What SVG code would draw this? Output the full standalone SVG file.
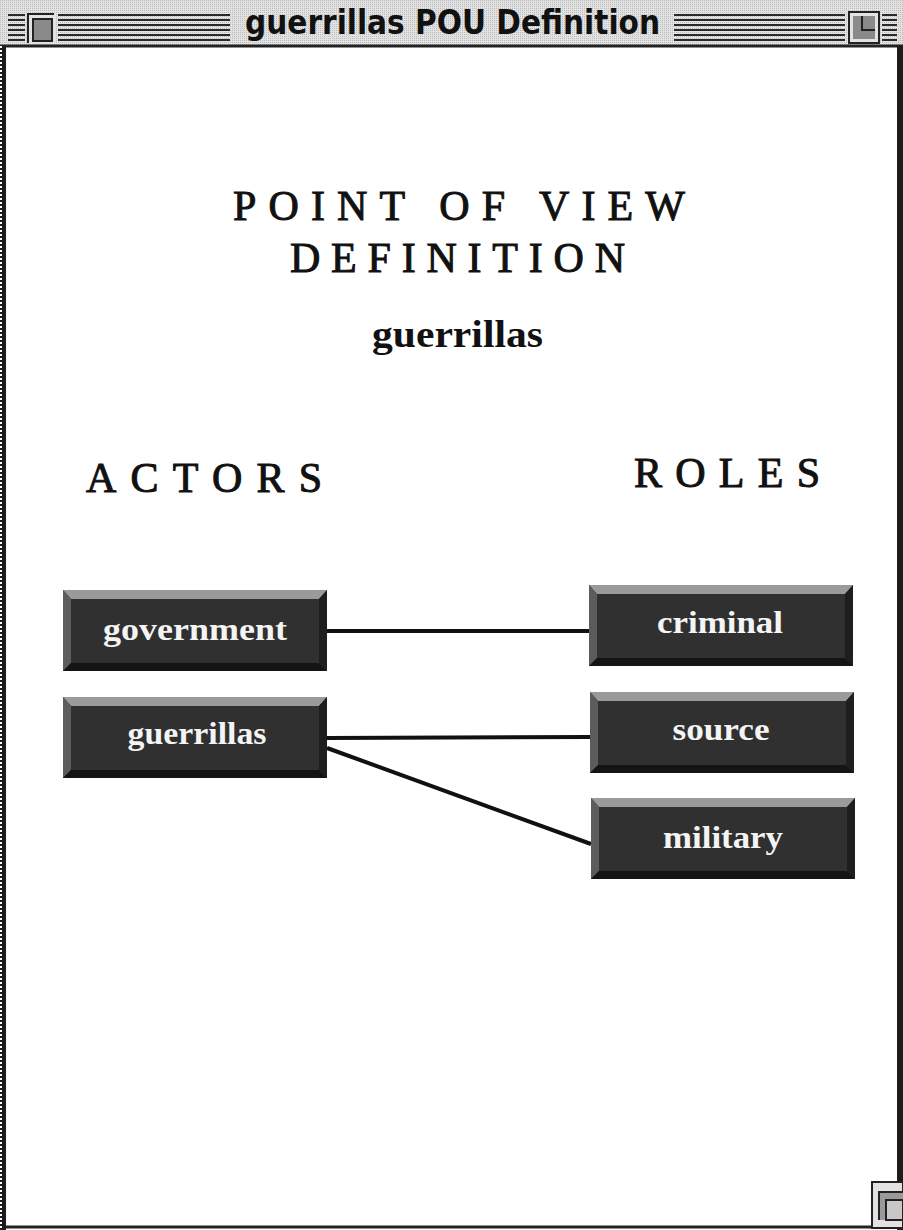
<svg xmlns="http://www.w3.org/2000/svg" width="903" height="1230" viewBox="0 0 903 1230">
  <style>
    .head { font-family: "Liberation Serif", "DejaVu Serif", serif; font-size: 42px; fill: #111; stroke: #111; stroke-width: 1; }
    .sub { font-family: "Liberation Serif", "DejaVu Serif", serif; font-size: 37px; font-weight: bold; fill: #111; }
    .lbl { font-family: "Liberation Serif", "DejaVu Serif", serif; font-size: 31px; font-weight: bold; fill: #f4f4f4; text-anchor: middle; }
    .wintitle { font-family: "DejaVu Sans Condensed", "Liberation Sans Narrow", "Liberation Sans", sans-serif; font-size: 34px; font-weight: bold; fill: #111; }
    .stripe { stroke: #2a2a2a; stroke-width: 2; }
    .link { stroke: #111; stroke-width: 4; fill: none; }
  </style>
  <defs>
    <!-- bevelled dark button, 264 x 81 -->
    <g id="btn">
      <rect x="0" y="0" width="264" height="81" fill="#303030"/>
      <polygon points="0,0 264,0 256,9 8,9" fill="#9a9a9a"/>
      <polygon points="0,0 8,9 8,73 0,81" fill="#5c5c5c"/>
      <polygon points="0,81 8,73 256,73 264,81" fill="#141414"/>
      <polygon points="264,0 264,81 256,73 256,9" fill="#1e1e1e"/>
    </g>
    <pattern id="dither" width="2" height="2" patternUnits="userSpaceOnUse">
      <rect width="2" height="2" fill="#e2e2e2"/>
      <rect width="1" height="1" fill="#bdbdbd"/>
    </pattern>
  </defs>

  <!-- window body -->
  <rect x="0" y="0" width="903" height="1230" fill="#ffffff"/>

  <!-- title bar -->
  <g id="titlebar">
    <rect x="0" y="0" width="903" height="46" fill="url(#dither)"/>
    <line x1="0" y1="46" x2="903" y2="46" stroke="#222" stroke-width="3"/>
    <g class="stripe">
      <line x1="8" y1="15" x2="25" y2="15"/><line x1="8" y1="20" x2="25" y2="20"/>
      <line x1="8" y1="25" x2="25" y2="25"/><line x1="8" y1="30" x2="25" y2="30"/>
      <line x1="8" y1="35" x2="25" y2="35"/><line x1="8" y1="40" x2="25" y2="40"/>
      <line x1="58" y1="15" x2="230" y2="15"/><line x1="58" y1="20" x2="230" y2="20"/>
      <line x1="58" y1="25" x2="230" y2="25"/><line x1="58" y1="30" x2="230" y2="30"/>
      <line x1="58" y1="35" x2="230" y2="35"/><line x1="58" y1="40" x2="230" y2="40"/>
      <line x1="674" y1="15" x2="845" y2="15"/><line x1="674" y1="20" x2="845" y2="20"/>
      <line x1="674" y1="25" x2="845" y2="25"/><line x1="674" y1="30" x2="845" y2="30"/>
      <line x1="674" y1="35" x2="845" y2="35"/><line x1="674" y1="40" x2="845" y2="40"/>
      <line x1="882" y1="15" x2="897" y2="15"/><line x1="882" y1="20" x2="897" y2="20"/>
      <line x1="882" y1="25" x2="897" y2="25"/><line x1="882" y1="30" x2="897" y2="30"/>
      <line x1="882" y1="35" x2="897" y2="35"/><line x1="882" y1="40" x2="897" y2="40"/>
    </g>
    <!-- close box -->
    <rect x="27" y="13" width="28" height="30" fill="#e2e2e2"/>
    <polyline points="28,43 28,14 54,14" fill="none" stroke="#222" stroke-width="2"/>
    <rect x="33" y="19" width="19" height="22" fill="#8a8a8a" stroke="#222" stroke-width="2"/>
    <!-- zoom box -->
    <rect x="849" y="12" width="30" height="31" fill="#e2e2e2" stroke="#222" stroke-width="2"/>
    <rect x="853" y="16" width="22" height="23" fill="#8a8a8a"/>
    <polyline points="862,16 862,30 875,30" fill="none" stroke="#222" stroke-width="2"/>
    <text class="wintitle" x="245" y="34" textLength="415" lengthAdjust="spacingAndGlyphs">guerrillas POU Definition</text>
  </g>

  <!-- window frame -->
  <rect x="0" y="46" width="6" height="1184" fill="#1c1c1c"/>
  <line x1="1" y1="46" x2="1" y2="1230" stroke="#ffffff" stroke-width="2" stroke-dasharray="2,2"/>
  <rect x="897" y="46" width="6" height="1184" fill="#1c1c1c"/>
  <line x1="6" y1="1227" x2="897" y2="1227" stroke="#222" stroke-width="3"/>
  <!-- grow box -->
  <g id="growbox">
    <rect x="872" y="1182" width="31" height="46" fill="#e2e2e2" stroke="#222" stroke-width="2"/>
    <rect x="879" y="1192" width="24" height="28" fill="#9a9a9a"/>
    <polyline points="879,1220 879,1192 903,1192" fill="none" stroke="#222" stroke-width="2"/>
    <rect x="886" y="1200" width="17" height="20" fill="#c8c8c8" stroke="#222" stroke-width="2"/>
  </g>

  <!-- headings -->
  <g id="headings">
    <text class="head" x="233" y="220" textLength="452" lengthAdjust="spacing">POINT OF VIEW</text>
    <text class="head" x="290" y="272" textLength="335" lengthAdjust="spacing">DEFINITION</text>
    <text class="sub" x="372" y="347" textLength="171" lengthAdjust="spacingAndGlyphs">guerrillas</text>
    <text class="head" x="86" y="492" textLength="236" lengthAdjust="spacing">ACTORS</text>
    <text class="head" x="634" y="487" textLength="186" lengthAdjust="spacing">ROLES</text>
  </g>

  <!-- connectors -->
  <g id="connectors">
    <line class="link" x1="327" y1="631" x2="589" y2="631"/>
    <line class="link" x1="327" y1="738" x2="590" y2="737"/>
    <line class="link" x1="327" y1="748" x2="591" y2="844" stroke-width="5"/>
  </g>

  <!-- actor nodes -->
  <g id="node-government">
    <use href="#btn" x="63" y="590"/>
    <text class="lbl" x="195" y="640" textLength="184" lengthAdjust="spacingAndGlyphs">government</text>
  </g>
  <g id="node-guerrillas">
    <use href="#btn" x="63" y="697"/>
    <text class="lbl" x="197" y="744" textLength="139" lengthAdjust="spacingAndGlyphs">guerrillas</text>
  </g>

  <!-- role nodes -->
  <g id="node-criminal">
    <use href="#btn" x="589" y="585"/>
    <text class="lbl" x="720" y="633" textLength="126" lengthAdjust="spacingAndGlyphs">criminal</text>
  </g>
  <g id="node-source">
    <use href="#btn" x="590" y="692"/>
    <text class="lbl" x="721" y="740" textLength="97" lengthAdjust="spacingAndGlyphs">source</text>
  </g>
  <g id="node-military">
    <use href="#btn" x="591" y="798"/>
    <text class="lbl" x="723" y="848" textLength="120" lengthAdjust="spacingAndGlyphs">military</text>
  </g>
</svg>
